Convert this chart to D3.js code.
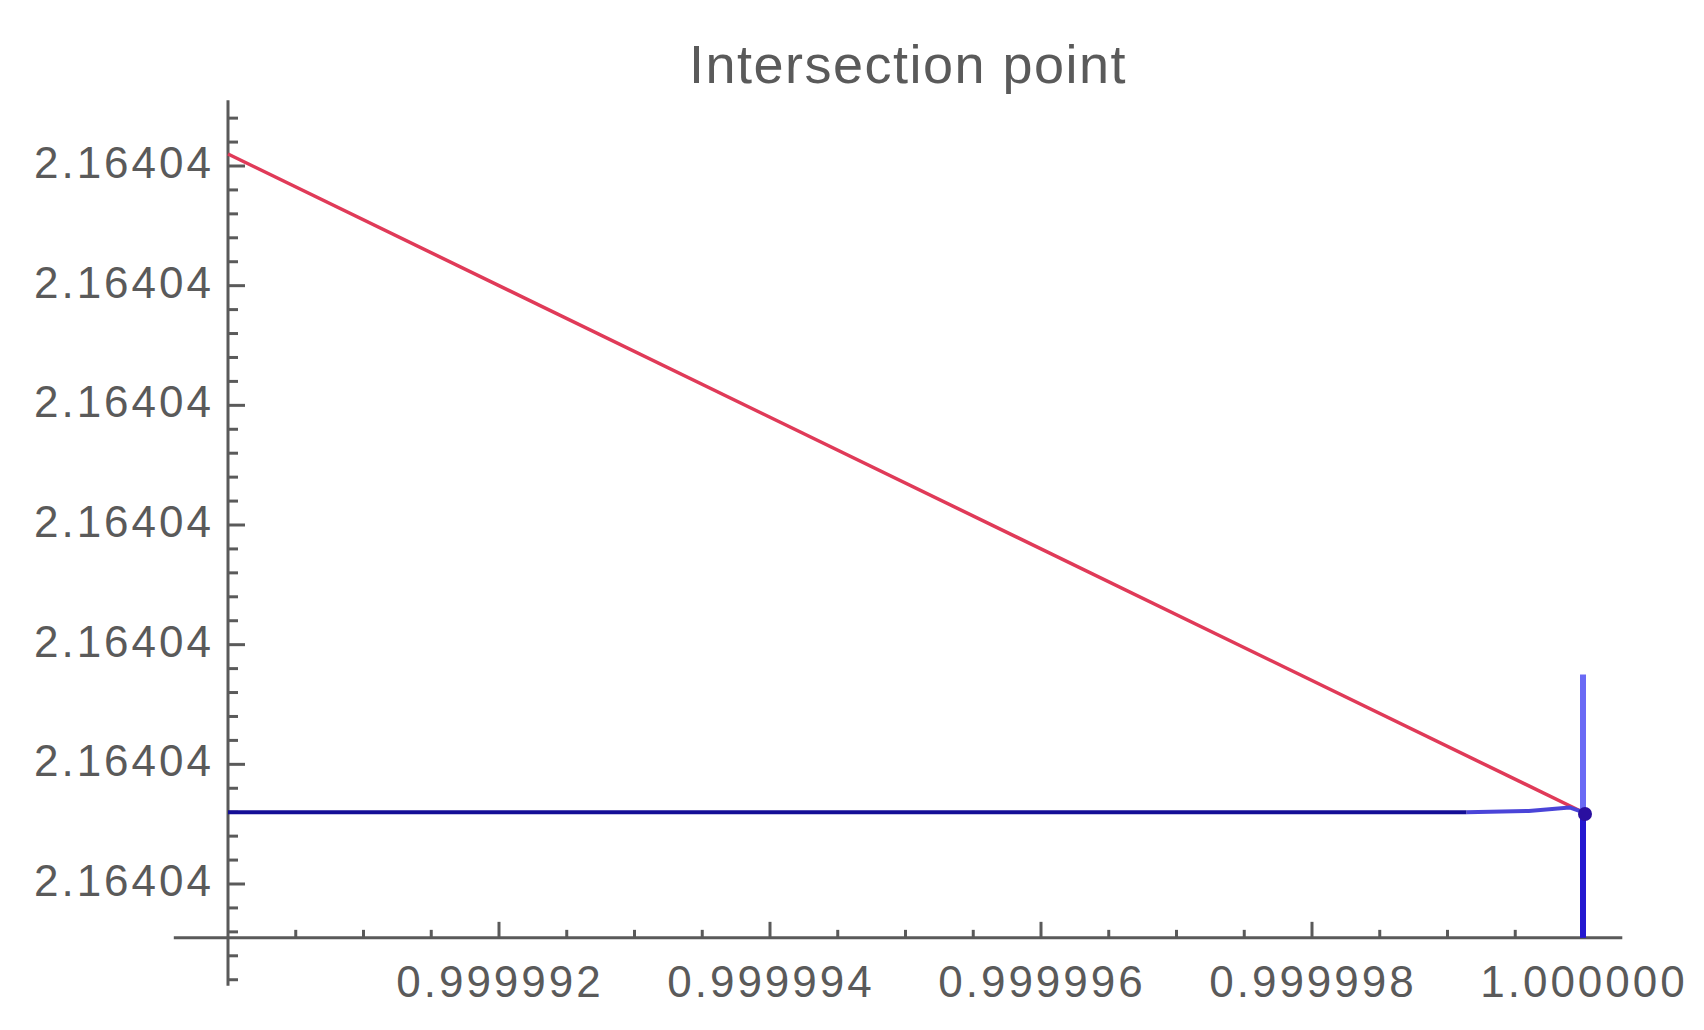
<!DOCTYPE html>
<html>
<head>
<meta charset="utf-8">
<script src="https://cdn.jsdelivr.net/npm/d3@7"></script>
<style>
  body { margin: 0; background: #fff; }
  text { font-family: "Liberation Sans", Arial, sans-serif; fill: #5a5a5a; }
</style>
</head>
<body>
<svg></svg>
<script>
// tick values (all y labels round to 2.16404 at 6 digits)
const xTicks = [0.999992, 0.999994, 0.999996, 0.999998, 1.000000]
const yTicks = [2.1640398, 2.1640400, 2.1640402, 2.1640404, 2.1640406, 2.1640408, 2.1640410]

// curves
const redLine = [[0.99999, 2.16404102], [1.0, 2.16403992]]
const blueFlat = [[0.99999, 2.16403992], [0.99999914, 2.16403992]]
const blueTail = [[0.99999914, 2.16403992], [0.99999960, 2.164039922], [0.99999990, 2.164039928], [1.0, 2.16403992]]
const blueUpper = [[1.0, 2.16404015], [1.0, 2.16403992]]
const blueLower = [[1.0, 2.16403992], [1.0, 2.16403971]]
const crossPoint = [[1.0, 2.164039917]]

const svgWidth = 1704, svgHeight = 1030

let svg = d3.select('svg')
    .attr('width', svgWidth)
    .attr('height', svgHeight)

let x = d3.scaleLinear().domain([0.99999, 1.0]).range([228, 1583])
let y = d3.scaleLinear().domain([2.1640398, 2.1640410]).range([884, 166])

// axis extents (plot range with padding)
const xExtent = [0.9999896, 1.00000029]
const yExtent = [2.16403963, 2.16404111]
const xAxisAt = 2.16403971
const yAxisAt = 0.99999

let fmtX = d3.format('.6f')
let fmtY = d3.format('.6g')

// minor ticks
let xMinor = d3.range(-2, 24).map(i => 0.99999 + i * 5e-7)
    .filter(v => v > xExtent[0] && v < xExtent[1] && v > yAxisAt + 1e-9)
    .filter(v => !xTicks.some(t => Math.abs(t - v) < 1e-9))
let yMinor = d3.range(-8, 40).map(i => 2.1640398 + i * 4e-8)
    .filter(v => v > yExtent[0] && v < yExtent[1])
    .filter(v => !yTicks.some(t => Math.abs(t - v) < 1e-10))

let axisG = svg.append('g').attr('stroke', '#5a5a5a').attr('stroke-width', 3)

// x axis line
axisG.append('line')
    .attr('x1', x(xExtent[0])).attr('x2', x(xExtent[1]))
    .attr('y1', y(xAxisAt)).attr('y2', y(xAxisAt))
// y axis line
axisG.append('line')
    .attr('x1', x(yAxisAt)).attr('x2', x(yAxisAt))
    .attr('y1', y(yExtent[1])).attr('y2', y(yExtent[0]))

axisG.selectAll('.xmaj').data(xTicks).enter().append('line')
    .attr('x1', d => x(d)).attr('x2', d => x(d))
    .attr('y1', y(xAxisAt)).attr('y2', y(xAxisAt) - 16)
axisG.selectAll('.xmin').data(xMinor).enter().append('line')
    .attr('x1', d => x(d)).attr('x2', d => x(d))
    .attr('y1', y(xAxisAt)).attr('y2', y(xAxisAt) - 8)
axisG.selectAll('.ymaj').data(yTicks).enter().append('line')
    .attr('x1', x(yAxisAt)).attr('x2', x(yAxisAt) + 17)
    .attr('y1', d => y(d)).attr('y2', d => y(d))
axisG.selectAll('.ymin').data(yMinor).enter().append('line')
    .attr('x1', x(yAxisAt)).attr('x2', x(yAxisAt) + 10)
    .attr('y1', d => y(d)).attr('y2', d => y(d))

svg.selectAll('.xlab').data(xTicks).enter().append('text')
    .attr('x', d => x(d) + 1)
    .attr('y', 997)
    .attr('text-anchor', 'middle')
    .attr('font-size', 44)
    .attr('letter-spacing', 3)
    .text(d => fmtX(d))

svg.selectAll('.ylab').data(yTicks).enter().append('text')
    .attr('x', x(yAxisAt) - 14)
    .attr('y', d => y(d) + 12)
    .attr('text-anchor', 'end')
    .attr('font-size', 44)
    .attr('letter-spacing', 3)
    .text(d => fmtY(d))

let line = d3.line().x(d => x(d[0])).y(d => y(d[1]))

svg.append('path').datum(redLine)
    .attr('d', line).attr('fill', 'none')
    .attr('stroke', '#e03a58').attr('stroke-width', 3.5)

svg.append('path').datum(blueUpper)
    .attr('d', line).attr('fill', 'none')
    .attr('stroke', '#6a6af5').attr('stroke-width', 6)
svg.append('path').datum(blueLower)
    .attr('d', line).attr('fill', 'none')
    .attr('stroke', '#2418d0').attr('stroke-width', 6)
svg.append('path').datum(blueTail)
    .attr('d', line).attr('fill', 'none')
    .attr('stroke', '#4a44d8').attr('stroke-width', 4)
svg.append('path').datum(blueFlat)
    .attr('d', line).attr('fill', 'none')
    .attr('stroke', '#140e96').attr('stroke-width', 4)

svg.selectAll('.pt').data(crossPoint).enter().append('circle')
    .attr('cx', d => x(d[0]) + 2)
    .attr('cy', d => y(d[1]))
    .attr('r', 7)
    .attr('fill', '#2a0fa0')

svg.append('text')
    .attr('x', 908)
    .attr('y', 83)
    .attr('text-anchor', 'middle')
    .attr('font-size', 54)
    .attr('letter-spacing', 1.5)
    .text('Intersection point')
</script>
</body>
</html>
